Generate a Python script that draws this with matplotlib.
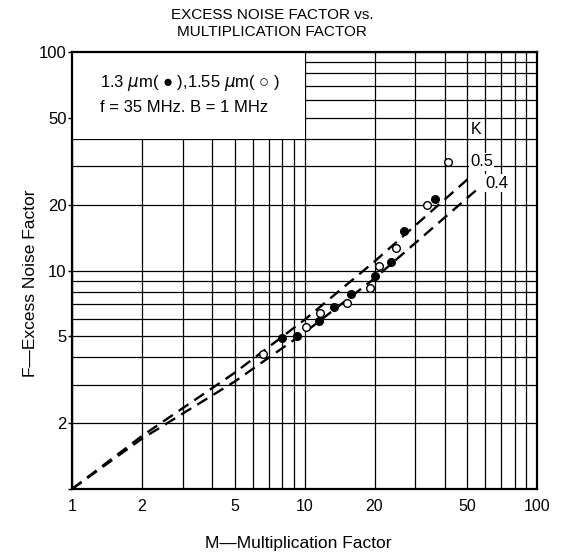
import matplotlib
matplotlib.use('Agg')
import matplotlib.pyplot as plt
from matplotlib.patches import Rectangle
from matplotlib.ticker import FixedLocator, NullFormatter

plt.rcParams['font.family'] = ['Liberation Sans', 'DejaVu Sans']

# measured points, 1.3 um (filled)
m_13 = [8.0, 9.3, 11.5, 13.4, 15.9, 20.0, 23.5, 26.7, 36.5]
f_13 = [4.92, 5.0, 5.85, 6.8, 7.8, 9.45, 10.9, 15.1, 21.2]

# measured points, 1.55 um (open)
m_155 = [6.6, 10.1, 11.7, 15.2, 19.2, 21.0, 24.8, 33.7, 41.5]
f_155 = [4.15, 5.5, 6.4, 7.1, 8.35, 10.5, 12.7, 20.0, 31.5]

# dashed k curves
m_k05 = [1, 2, 5, 10, 20, 52]
f_k05 = [1, 1.75, 3.4, 5.95, 11.0, 27.0]
m_k04 = [1, 2, 5, 10, 20, 57]
f_k04 = [1, 1.7, 3.1, 5.2, 9.2, 24.2]

x_major = [1, 2, 5, 10, 20, 50, 100]
x_minor = [3, 4, 6, 7, 8, 9, 30, 40, 60, 70, 80, 90]
y_labels = ['', '2', '5', '10', '20', '50', '100']

fig = plt.figure(figsize=(5.64, 5.52), dpi=100)
ax = fig.add_axes([0.1277, 0.1141, 0.8245, 0.7917])
ax.set_xscale('log')
ax.set_yscale('log')
ax.set_xlim(1, 100)
ax.set_ylim(1, 100)

# grid on every integer
ax.xaxis.set_major_locator(FixedLocator(x_major))
ax.xaxis.set_minor_locator(FixedLocator(x_minor))
ax.yaxis.set_major_locator(FixedLocator(x_major))
ax.yaxis.set_minor_locator(FixedLocator(x_minor))
ax.set_xticklabels([str(v) for v in x_major])
ax.set_yticklabels(y_labels)
ax.xaxis.set_minor_formatter(NullFormatter())
ax.yaxis.set_minor_formatter(NullFormatter())
ax.set_axisbelow(True)
ax.grid(True, which='both', color='black', linewidth=0.9)
ax.tick_params(axis='x', which='both', length=0, pad=7, labelsize=11.5)
ax.tick_params(axis='y', which='major', length=3, width=1, pad=1, labelsize=12)
ax.tick_params(axis='y', which='minor', length=0)
for s in ax.spines.values():
    s.set_linewidth(1.6)

# white box for the legend text
ax.add_patch(Rectangle((1, 40), 9, 60, facecolor='white', edgecolor='none', zorder=1))
ax.text(0.06, 0.929, '1.3 $\\mu$m( \u25cf ),1.55 $\\mu$m( \u25cb )', transform=ax.transAxes,
        fontsize=12, va='center', zorder=4)
ax.text(0.06, 0.874, 'f = 35 MHz. B = 1 MHz', transform=ax.transAxes,
        fontsize=12, va='center', zorder=4)

# dashed k lines
ax.plot(m_k05, f_k05, color='black', linestyle=(0, (5, 3)), linewidth=1.7, zorder=2)
ax.plot(m_k04, f_k04, color='black', linestyle=(0, (5, 3)), linewidth=1.7, zorder=2)

# data points
ax.plot(m_13, f_13, 'o', color='black', markersize=5.5, zorder=3)
ax.plot(m_155, f_155, 'o', markerfacecolor='white', markeredgecolor='black',
        markeredgewidth=1, markersize=5.5, zorder=3)

box = dict(facecolor='white', edgecolor='none', pad=1)
ax.text(52, 44, 'K', fontsize=11.5, ha='left', va='center', bbox=box, zorder=4)
ax.text(51.5, 31.4, '0.5', fontsize=12, ha='left', va='center', bbox=box, zorder=4)
ax.text(59.7, 25.1, '0.4', fontsize=12, ha='left', va='center', bbox=box, zorder=4)

ax.set_xlabel('M\u2014Multiplication Factor', fontsize=12.5)
ax.xaxis.set_label_coords(0.486, -0.108)
ax.set_ylabel('F\u2014Excess Noise Factor', fontsize=12.5)
ax.yaxis.set_label_coords(-0.073, 0.471)

# title, two lines
fig.text(0.482, 1 - 15 / 552, 'EXCESS NOISE FACTOR vs.', fontsize=11,
         ha='center', va='center')
fig.text(0.482, 1 - 32 / 552, 'MULTIPLICATION FACTOR', fontsize=11,
         ha='center', va='center')

fig.savefig('out.png', dpi=100)
